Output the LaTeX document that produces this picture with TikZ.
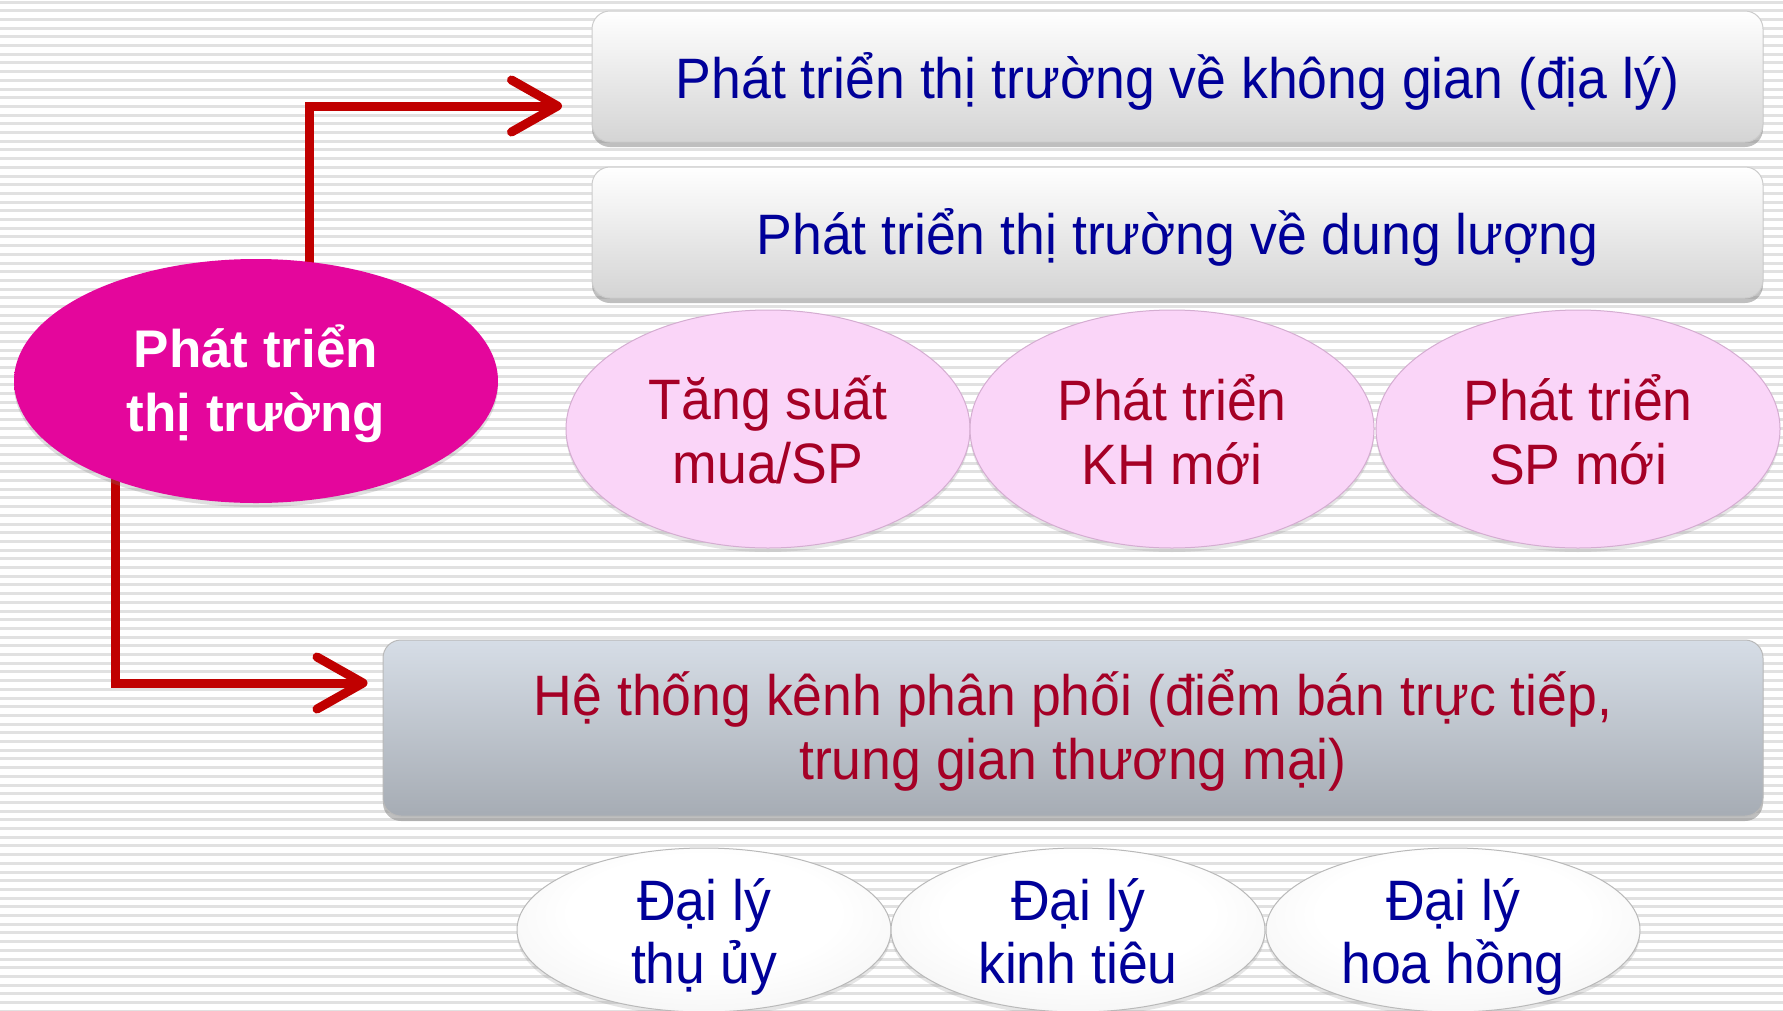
\documentclass[tikz,border=0pt]{standalone}
\usepackage{fontspec}
\setmainfont{Liberation Sans}
\newfontfamily\cond[FakeStretch=0.94]{Liberation Sans}
\usetikzlibrary{arrows.meta,shapes.geometric,shadows}
\definecolor{arrowred}{HTML}{C00000}
\definecolor{navytxt}{HTML}{000099}
\definecolor{redtxt}{HTML}{A50026}
\definecolor{stripe}{HTML}{E1E1E1}
\definecolor{boxlow}{HTML}{D4D4D4}
\definecolor{bluetop}{HTML}{D6DDE6}
\definecolor{bluelow}{HTML}{A6ACB4}
\definecolor{magin}{HTML}{E4069C}
\definecolor{magout}{HTML}{80004F}
\definecolor{pinkin}{HTML}{FAD5F8}
\definecolor{pinkout}{HTML}{D3A2CD}
\definecolor{pinkrim}{HTML}{D4ADD1}
\definecolor{greyin}{HTML}{FFFFFF}
\definecolor{greymid}{HTML}{F1F1F1}
\definecolor{greyout}{HTML}{B8B8B8}
\pgfdeclareradialshading{magball}{\pgfpoint{0bp}{0bp}}{color(0bp)=(magin); color(40bp)=(magin); color(50bp)=(magout)}
\pgfdeclareradialshading{pinkball}{\pgfpoint{0bp}{0bp}}{color(0bp)=(pinkin); color(37bp)=(pinkin); color(50bp)=(pinkout)}
\pgfdeclareradialshading{greyball}{\pgfpoint{0bp}{8bp}}{color(0bp)=(greyin); color(18bp)=(greyin); color(36bp)=(greymid); color(50bp)=(greyout)}
\pgfdeclarelayer{bg}
\pgfdeclarelayer{conn}
\pgfsetlayers{bg,conn,main}
\tikzset{
  conn/.style={draw=arrowred, line width=9pt, line join=miter,
    -{Straight Barb[length=46pt,width=52pt,round]}},
  whitebox/.style={rectangle, rounded corners=18pt, minimum width=1171pt,
    minimum height=131pt, inner sep=0pt, draw=gray!40, line width=1pt,
    top color=white, bottom color=boxlow,
    drop shadow={opacity=0.5, shadow xshift=0pt, shadow yshift=-5pt},
    text height=50pt, text depth=7pt,
    font=\cond\fontsize{57}{64}\selectfont, text=navytxt},
  bluebox/.style={rectangle, rounded corners=18pt, minimum width=1380pt,
    minimum height=176pt, inner sep=0pt, draw=gray!55, line width=1pt,
    top color=bluetop, bottom color=bluelow,
    drop shadow={opacity=0.5, shadow xshift=0pt, shadow yshift=-5pt}},
  bluetxt/.style={font=\cond\fontsize{57}{64}\selectfont, text=redtxt, align=center, inner sep=0pt},
  mainell/.style={ellipse, minimum width=484pt, minimum height=244pt,
    inner sep=0pt, shading=magball,
    drop shadow={opacity=0.25, shadow xshift=0pt, shadow yshift=-4pt}},
  pinkell/.style={ellipse, minimum width=404pt, minimum height=238pt,
    inner sep=0pt, shading=pinkball, draw=pinkrim, line width=1pt,
    drop shadow={opacity=0.2, shadow xshift=0pt, shadow yshift=-4pt}},
  greyell/.style={ellipse, minimum width=374pt, minimum height=164pt,
    inner sep=0pt, shading=greyball, draw=gray!55, line width=1pt,
    drop shadow={opacity=0.2, shadow xshift=0pt, shadow yshift=-4pt}},
  maintxt/.style={font=\bfseries\fontsize{53}{64}\selectfont, text=white, align=center, inner sep=0pt},
  pinktxt/.style={font=\cond\fontsize{57}{64}\selectfont, text=redtxt, align=center, inner sep=0pt},
  greytxt/.style={font=\cond\fontsize{57}{63}\selectfont, text=navytxt, align=center, inner sep=0pt},
  stripeline/.style={draw=stripe, line width=3pt}
}
\begin{document}
\begin{tikzpicture}[x=1pt,y=-1pt]
\useasboundingbox (0,0) rectangle (1783,1010);
\clip (0,0) rectangle (1783,1010);
\begin{pgfonlayer}{bg}
  \fill[white] (0,0) rectangle (1783,1010);
  \foreach \i in {0,...,117} {
    \draw[stripeline] (0,\i*8.7+2) -- (1783,\i*8.7+2);
  }
\end{pgfonlayer}

% boxes
\node[whitebox] (b1) at (1177.5,76.5) {Phát triển thị trường về không gian (địa lý)};
\node[whitebox] (b2) at (1177.5,232.5) {Phát triển thị trường về dung lượng};
\node[bluebox] (b3) at (1073,728) {};
\node[bluetxt] (b3t) at (1073,730.5) {Hệ thống kênh phân phối (điểm bán trực tiếp,\\trung gian thương mại)};

% main ellipse
\node[mainell] (main) at (256,381) {};
\node[maintxt] (maint) at (256,384) {Phát triển\\thị trường};

% pink ellipses
\node[pinkell] (p1) at (768,429) {};
\node[pinkell] (p2) at (1172,429) {};
\node[pinkell] (p3) at (1578,429) {};
\node[pinktxt] (p1t) at (768,430) {Tăng suất\\mua/SP};
\node[pinktxt] (p2t) at (1172,430) {Phát triển\\KH mới};
\node[pinktxt] (p3t) at (1578,430) {Phát triển\\SP mới};

% grey ellipses
\node[greyell] (g1) at (704,930) {};
\node[greyell] (g2) at (1078,930) {};
\node[greyell] (g3) at (1453,930) {};
\node[greytxt] (g1t) at (704,937) {Đại lý\\thụ ủy\vphantom{y}};
\node[greytxt] (g2t) at (1078,937) {Đại lý\\kinh tiêu\vphantom{y}};
\node[greytxt] (g3t) at (1453,937) {Đại lý\\hoa hồng\vphantom{y}};

% connectors
\coordinate (t1) at (562,106);
\coordinate (t2) at (367.5,683);
\begin{pgfonlayer}{conn}
  \draw[conn] ([xshift=53pt]main.center) |- (t1);
  \draw[conn] ([xshift=-141pt]main.center) |- (t2);
\end{pgfonlayer}
\end{tikzpicture}
\end{document}
